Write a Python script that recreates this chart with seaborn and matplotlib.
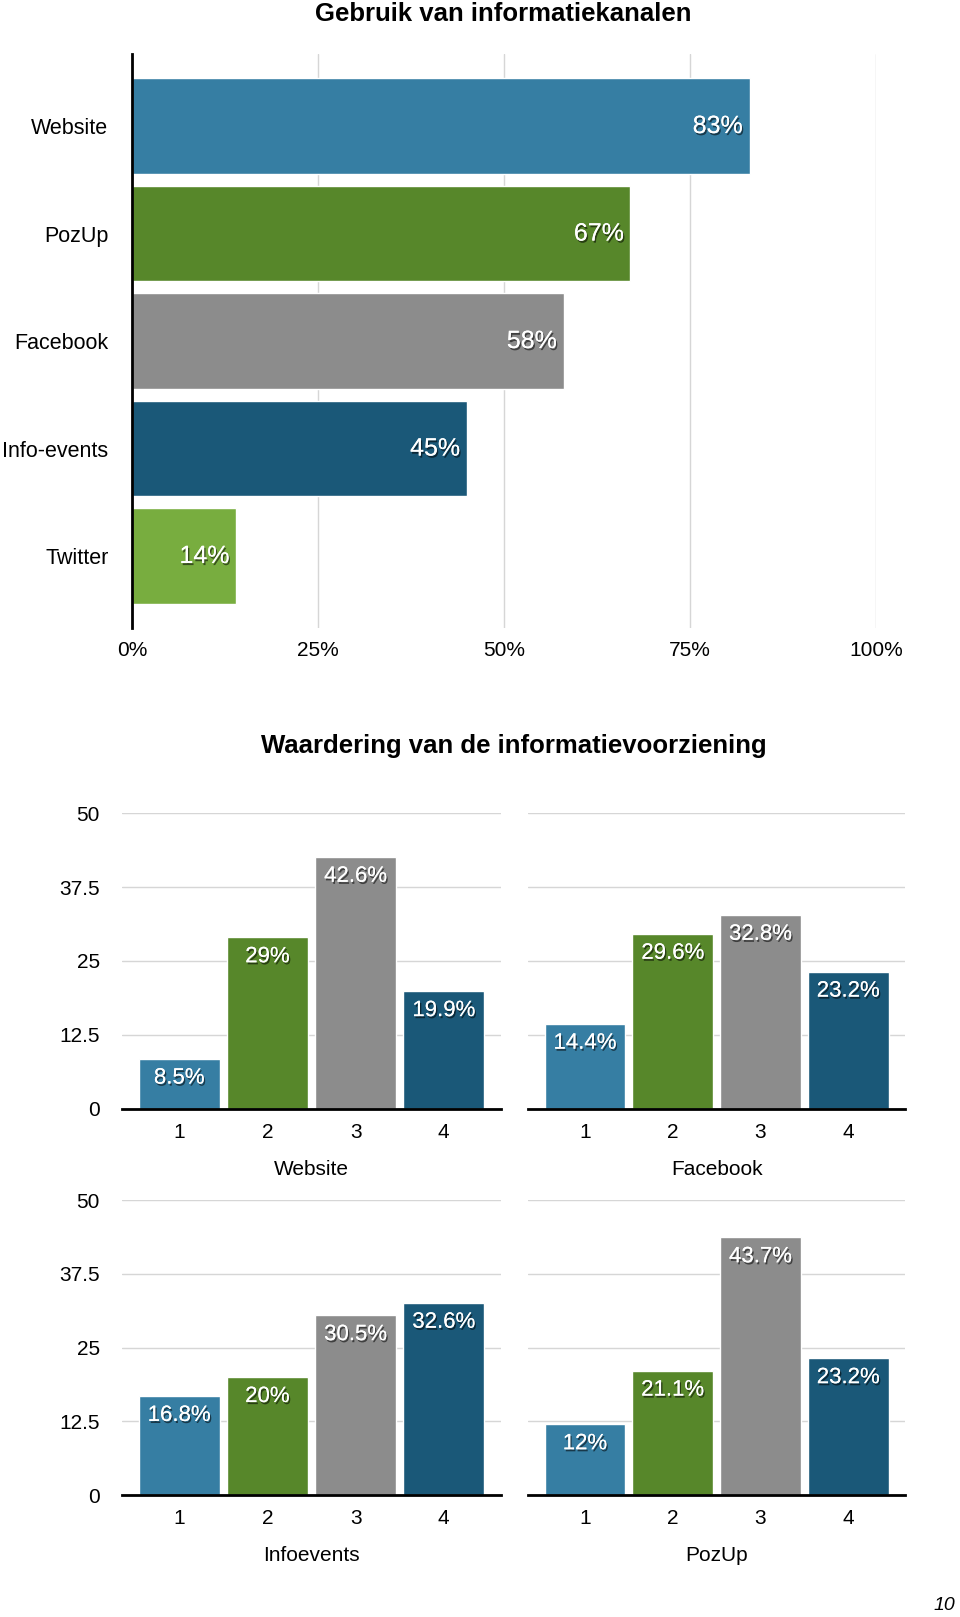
import matplotlib
matplotlib.use('Agg')
import matplotlib.pyplot as plt
import matplotlib.patheffects as pe
import seaborn as sns

# Data
channels = ['Website', 'PozUp', 'Facebook', 'Info-events', 'Twitter']
usage = [83, 67, 58, 45, 14]
channel_colors = ['#367ea3', '#57872a', '#8c8c8c', '#1a5878', '#78ad3f']

ratings = ['1', '2', '3', '4']
rating_colors = ['#367ea3', '#57872a', '#8c8c8c', '#1a5878']
website = [8.5, 29, 42.6, 19.9]
facebook = [14.4, 29.6, 32.8, 23.2]
infoevents = [16.8, 20, 30.5, 32.6]
pozup = [12, 21.1, 43.7, 23.2]
panels = [('Website', website), ('Facebook', facebook),
          ('Infoevents', infoevents), ('PozUp', pozup)]

sns.set_style('white')
plt.rcParams['font.family'] = ['Liberation Sans', 'DejaVu Sans']
for key in ['text.color', 'xtick.color', 'ytick.color', 'axes.labelcolor']:
    plt.rcParams[key] = 'black'

fig = plt.figure(figsize=(9.6, 16.17), dpi=100)
shadow = [pe.withSimplePatchShadow(offset=(1, -1.5), shadow_rgbFace='black', alpha=0.55), pe.Normal()]

# Top chart: usage of channels
ax = fig.add_axes([0.1375, 0.6116, 0.775, 0.355])
sns.barplot(x=usage, y=channels, hue=channels, palette=channel_colors, orient='h',
            width=0.89, legend=False, ax=ax, saturation=1)
ax.set_xlim(0, 100)
ax.set_ylim(4.67, -0.67)
ax.set_xticks([0, 25, 50, 75, 100])
ax.set_xticklabels(['0%', '25%', '50%', '75%', '100%'], fontsize=15)
ax.tick_params(axis='y', labelsize=15.5, length=0, pad=17)
ax.tick_params(axis='x', length=0, pad=9)
ax.grid(axis='x', color='#d6d6d6', linewidth=1)
ax.set_axisbelow(True)
for s in ['top', 'right', 'bottom']:
    ax.spines[s].set_visible(False)
ax.spines['left'].set_color('black')
ax.spines['left'].set_linewidth(2)
ax.set_xlabel('')
ax.set_ylabel('')
for i, v in enumerate(usage):
    ax.text(v - 0.9, i, f'{v}%', ha='right', va='center', color='white',
            fontsize=18, path_effects=shadow)
fig.text(0.524, 0.9915, 'Gebruik van informatiekanalen', ha='center', va='center',
         fontsize=18.5, fontweight='bold')

# Bottom chart: ratings
fig.text(0.535, 0.5387, 'Waardering van de informatievoorziening', ha='center',
         va='center', fontsize=18.5, fontweight='bold')
positions = [[0.127, 0.3142, 0.395, 0.183], [0.55, 0.3142, 0.393, 0.183],
             [0.127, 0.0754, 0.395, 0.1824], [0.55, 0.0754, 0.393, 0.1824]]
for k, ((name, vals), pos) in enumerate(zip(panels, positions)):
    a = fig.add_axes(pos)
    sns.barplot(x=ratings, y=vals, hue=ratings, palette=rating_colors, width=0.92,
                legend=False, ax=a, saturation=1)
    a.set_ylim(0, 50)
    a.set_xlim(-0.65, 3.65)
    a.set_yticks([0, 12.5, 25, 37.5, 50])
    if k % 2 == 0:
        a.set_yticklabels(['0', '12.5', '25', '37.5', '50'], fontsize=15)
    else:
        a.set_yticklabels([])
    a.tick_params(axis='y', length=0, pad=16)
    a.tick_params(axis='x', length=0, labelsize=15, pad=10)
    a.grid(axis='y', color='#d6d6d6', linewidth=1)
    a.set_axisbelow(True)
    for s in ['top', 'right', 'left']:
        a.spines[s].set_visible(False)
    a.spines['bottom'].set_color('black')
    a.spines['bottom'].set_linewidth(2)
    a.set_ylabel('')
    a.set_xlabel(name, fontsize=15, labelpad=13)
    for i, v in enumerate(vals):
        a.annotate(f'{v:g}%', (i, v), xytext=(0, -14), textcoords='offset points',
                   ha='center', va='center', color='white', fontsize=16,
                   path_effects=shadow)

fig.text(0.995, 0.007, '10', ha='right', va='center', fontsize=14, style='italic')

fig.savefig('out.png', dpi=100)
